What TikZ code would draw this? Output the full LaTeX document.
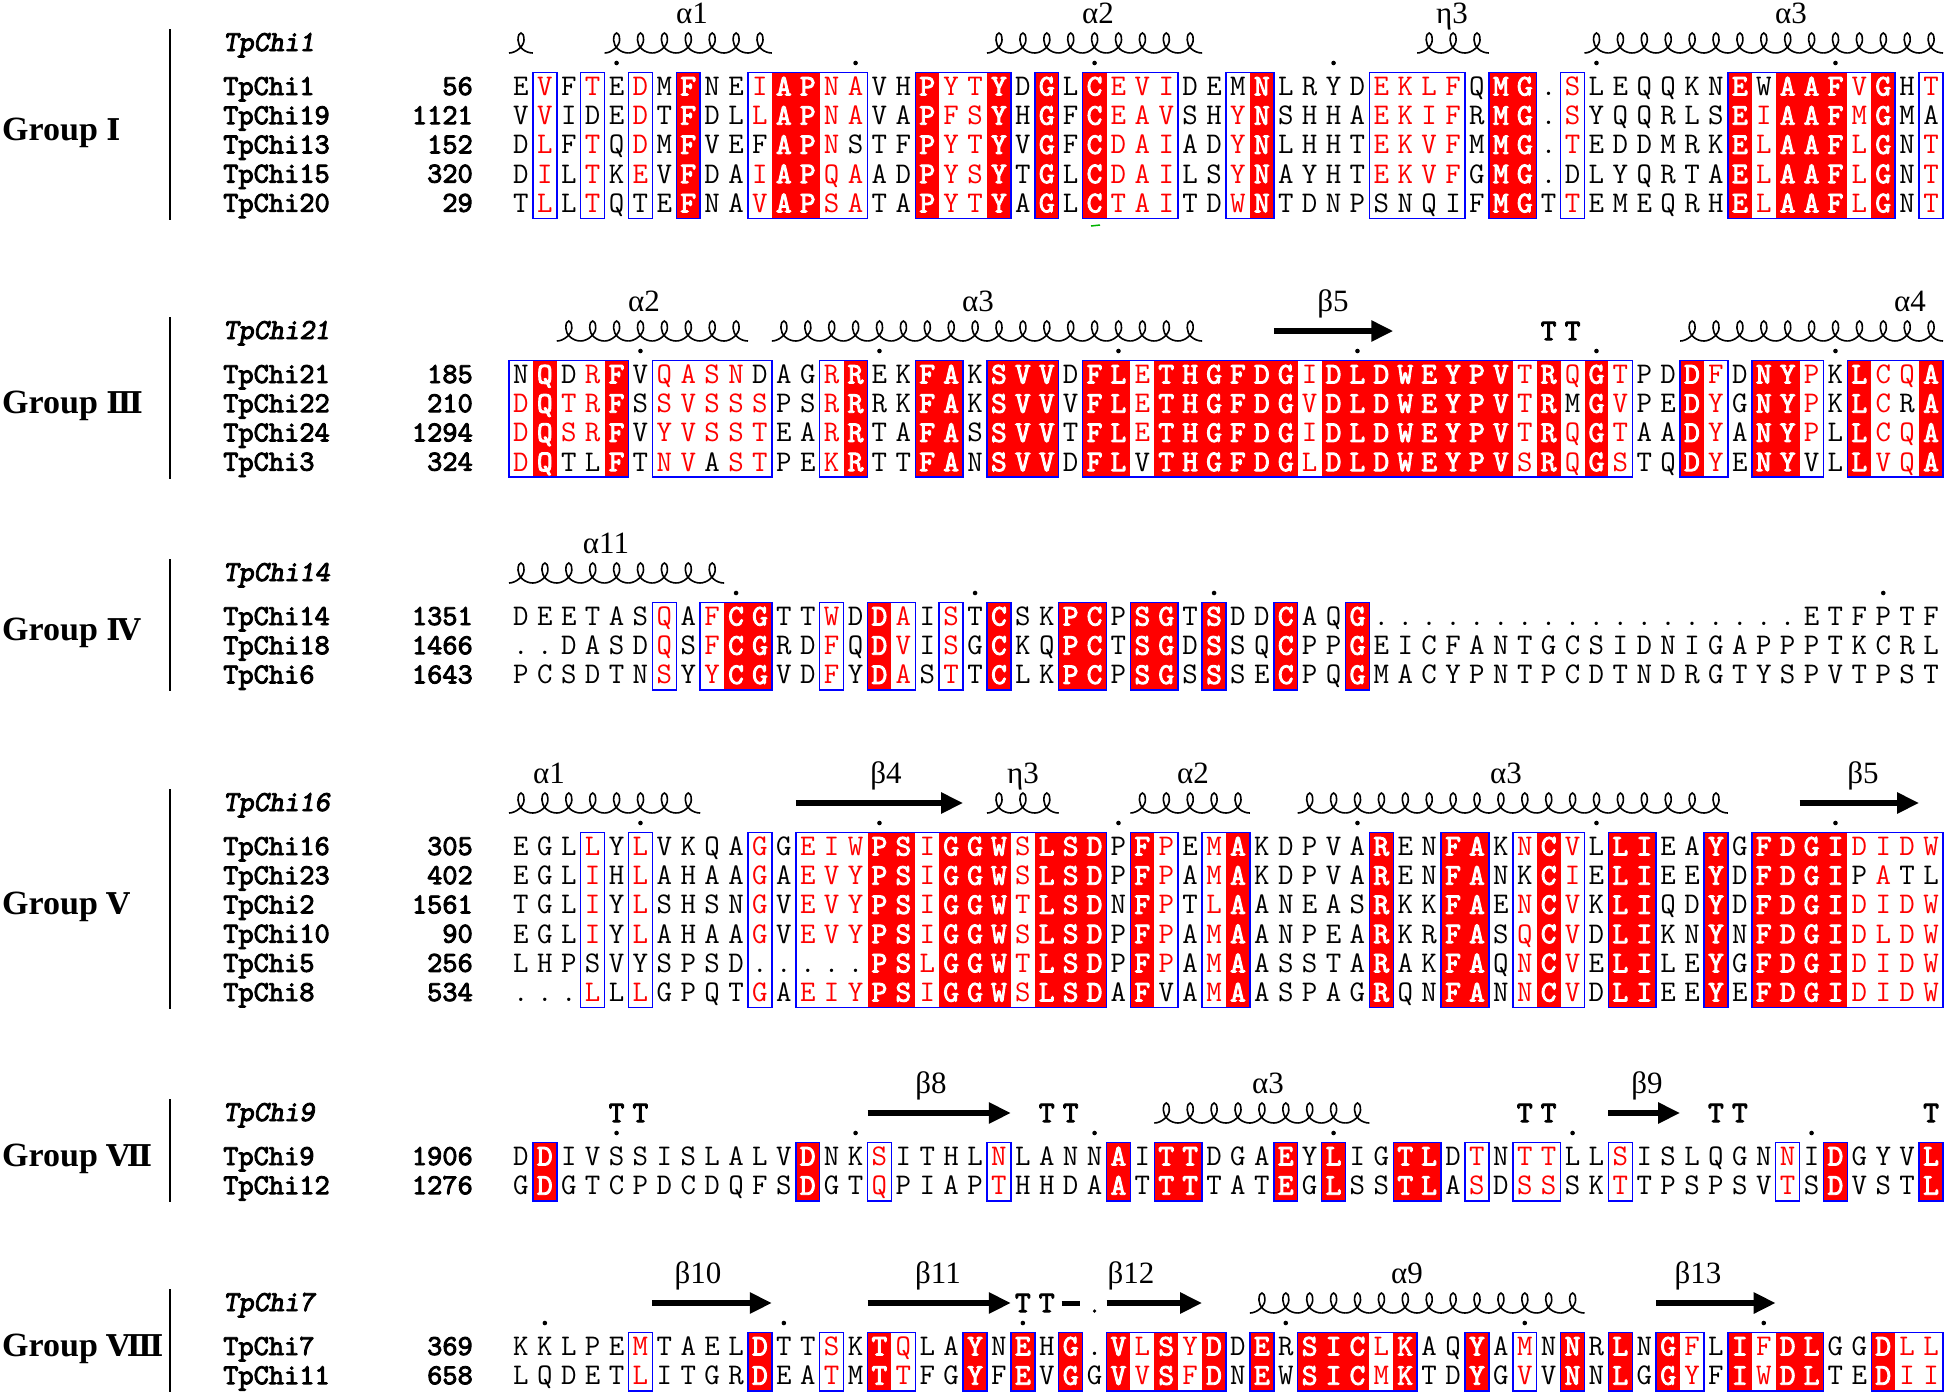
\documentclass[tikz,border=0pt]{standalone}
\usepackage{fontspec}
\setmainfont{Liberation Serif}
\newfontfamily\numeralfont{DejaVu Serif}
\newfontfamily\monobold{lmmono10-regular.otf}[FakeBold=3]
\newfontfamily\monoboldit{lmmonoslant10-regular.otf}[FakeBold=3]
\usetikzlibrary{arrows.meta}

\definecolor{espred}{RGB}{255,0,0}
\definecolor{espblue}{RGB}{0,0,255}

% one cell is 23.9 wide and 29.2 high, column 0 starts at x=509
\newcount\colidx
\newcount\runstart
\newif\ifinrun

\tikzset{
  resid/.style={inner sep=0pt, text height=17pt, text depth=0pt, anchor=center,
    font={\ttfamily\fontsize{30}{30}\selectfont}},
  residid/.style={resid, text=white, font={\monobold\fontsize{30}{30}\selectfont}},
  residsim/.style={resid, text=espred},
  idbox/.style={fill=espred},
  framebox/.style={draw=espblue, line width=1.5pt},
  seqname/.style={anchor=west, inner sep=0pt, text height=16pt, text depth=0pt,
    font={\monobold\fontsize{29}{29}\selectfont}},
  seqnum/.style={seqname, anchor=east},
  headname/.style={seqname, font={\monoboldit\fontsize{29}{29}\selectfont}},
  grouplabel/.style={anchor=west, inner sep=0pt, font={\bfseries\fontsize{34}{34}\selectfont}},
  groupbar/.style={line width=2.5pt},
  sslabel/.style={inner sep=0pt, anchor=base, font={\fontsize{31}{31}\selectfont}},
  turnmark/.style={inner sep=0pt, font={\monobold\fontsize{30}{30}\selectfont}},
  coilline/.style={line width=1.6pt},
  strand/.style={line width=6pt, -{Triangle[length=22pt,width=20pt]}},
  coilloop/.pic={\draw[coilline] (0,0) .. controls (7,0) and (15,-7) .. (15,-13)
    .. controls (15,-18) and (13.5,-20) .. (12,-20) .. controls (10.5,-20) and (9,-18) .. (9,-13)
    .. controls (9,-6) and (16,0) .. (23.9,0);}
}

% red boxes and blue frames of a block, from \colclass
\def\closerun{\draw[framebox] ({509+23.9*\the\runstart},\blocktop) rectangle ({509+23.9*\the\colidx},\blockbot);}
\def\dcstep#1{%
  \ifx#1\relax\else
    \if#1R\fill[idbox] ({509+23.9*\the\colidx},\blocktop) rectangle ({532.9+23.9*\the\colidx},\blockbot);\fi
    \if#1.\ifinrun\closerun\inrunfalse\fi
    \else\ifinrun\else\runstart=\colidx\inruntrue\fi\fi
    \advance\colidx by 1
    \expandafter\dcstep\fi}
\def\drawcols{\colidx=0 \inrunfalse\expandafter\dcstep\colclass\relax\ifinrun\closerun\fi}

% one residue: white on red, red, or black
\def\putres#1#2{%
  \pgfmathsetmacro\rescx{520.95+23.9*\the\colidx}%
  \if#1R\node[residid] at (\rescx,\rowy) {\uppercase{#2}};%
  \else\ifnum`#2>96 \node[residsim] at (\rescx,\rowy) {\uppercase{#2}};%
  \else\node[resid] at (\rescx,\rowy) {#2};\fi\fi}
\def\drstep#1#2\relax#3#4\relax{\putres{#1}{#3}\advance\colidx by 1
  \ifx\relax#2\relax\else\drstep#2\relax#4\relax\fi}

\newcommand\seqrow[4]{%
  \pgfmathsetmacro\rowy{\ssy+44+29.2*(#1-1)}%
  \node[seqname] at (223,\rowy) {#2};
  \node[seqnum] at (473,\rowy) {#3};
  \colidx=0 \expandafter\drstep\colclass\relax#4\relax}

\newcommand\grouphead[4]{%
  \def\ssy{#2}%
  \pgfmathsetmacro\blocktop{#2+29.4}%
  \pgfmathsetmacro\blockbot{#2+44+29.2*(#3-1)+14.6}%
  \pgfmathsetmacro\bartop{#2-14}%
  \pgfmathsetmacro\barbot{#2+44+29.2*(#3-1)+16}%
  \pgfmathsetmacro\labely{(\bartop+\barbot)/2+8}%
  \draw[groupbar] (170,\bartop) -- (170,\barbot);
  \node[grouplabel] at (2,\labely) {Group {\numeralfont\fontsize{30}{30}\selectfont #1}};
  \node[headname] at (223,#2) {#4};
  \drawcols}

% secondary structure
\newcommand\helix[2]{\foreach \c in {#1,...,#2}{\pic at ({509+23.9*\c},{\ssy+10}) {coilloop};}}
\newcommand\strandarr[2]{\draw[strand] ({509+23.9*#1},\ssy) -- ({509+23.9*(#2+1)},\ssy);}
\newcommand\turnT[1]{\node[turnmark] at ({520.95+23.9*#1},\ssy) {T};}
\newcommand\numdots[1]{\foreach \c in {#1}{\fill ({520.95+23.9*\c},{\ssy+20}) circle (2.3);}}
\newcommand\sslab[2]{\node[sslabel] at (#1,{\ssy-20}) {#2};}

\begin{document}
\begin{tikzpicture}[x=1pt,y=-1pt]
\useasboundingbox (0,0) rectangle (1946,1398);

% ---- Group I ----
\def\colclass{.B.B.B.R.. BRRBB..RBB R.R.RBBB.. BR....BBBB .RR.B..... .RBRRRBR.B}
\grouphead{Ⅰ}{43}{5}{TpChi1}
\helix{0}{0} \helix{4}{10} \helix{20}{28} \helix{38}{40} \helix{45}{59}
\sslab{692}{α1} \sslab{1098}{α2} \sslab{1452}{η3} \sslab{1791}{α3}
\numdots{4,14,24,34,45,55}
\seqrow{1}{TpChi1}{56}{EvFtEdMFNE iAPnaVHPyt YDGLCeviDE MNLRYDeklf QMG.sLEQQK NEWAAFvGHt}
\seqrow{2}{TpChi19}{1121}{VvIDEdTFDL lAPnaVAPfs YHGFCeavSH yNSHHAekif RMG.sYQQRL SEiAAFmGMA}
\seqrow{3}{TpChi13}{152}{DlFtQdMFVE FAPnSTFPyt YVGFCdaiAD yNLHHTekvf MMG.tEDDMR KElAAFlGNt}
\seqrow{4}{TpChi15}{320}{DiLtKeVFDA iAPqaADPys YTGLCdaiLS yNAYHTekvf GMG.DLYQRT AElAAFlGNt}
\seqrow{5}{TpChi20}{29}{TlLtQTEFNA vAPsaTAPyt YAGLCtaiTD wNTDNPSNQI FMGTtEMEQR HElAAFlGNt}
\draw[green!70!black, line width=1.5pt] (1091,226) -- (1100,225);

% ---- Group III ----
\def\colclass{BRBBR.BBBB B..BR..RR. RRR.RRBRRR RRRBRRRRRR RRBRBRB..R B.RRB.RBBR}
\grouphead{Ⅲ}{331}{4}{TpChi21}
\helix{2}{9} \helix{11}{28} \strandarr{32}{36} \turnT{43} \turnT{44} \helix{49}{59}
\sslab{644}{α2} \sslab{978}{α3} \sslab{1333}{β5} \sslab{1910}{α4}
\numdots{5,15,25,35,45,55}
\seqrow{1}{TpChi21}{185}{NQDrFVqasn DAGrREKFAK SVVDFLeTHG FDGiDLDWEY PVtRqGtPDD fDNYpKLcqA}
\seqrow{2}{TpChi22}{210}{dQtrFSsvss sPSrRRKFAK SVVVFLeTHG FDGvDLDWEY PVtRMGvPED yGNYpKLcRA}
\seqrow{3}{TpChi24}{1294}{dQsrFVyvss tEArRTAFAS SVVTFLeTHG FDGiDLDWEY PVtRqGtAAD yANYpLLcqA}
\seqrow{4}{TpChi3}{324}{dQTLFTnvAs tPEkRTTFAN SVVDFLVTHG FDGlDLDWEY PVsRqGsTQD yENYVLLvqA}

% ---- Group IV ----
\def\colclass{......B.BR R..B.RB.B. R..RR.RR.R ..R..R.... .......... ..........}
\grouphead{Ⅳ}{573}{3}{TpChi14}
\helix{0}{8}
\sslab{606}{α11}
\numdots{9,19,29,57}
\seqrow{1}{TpChi14}{1351}{DEETASqAfC GTTwDDaIsT CSKPCPSGTS DDCAQG.... .......... ....ETFPTF}
\seqrow{2}{TpChi18}{1466}{..DASDqSfC GRDfQDvIsG CKQPCTSGDS SQCPPGEICF ANTGCSIDNI GAPPPTKCRL}
\seqrow{3}{TpChi6}{1643}{PCSDTNsYyC GVDfYDaStT CLKPCPSGSS SECPQGMACY PNTPCDTNDR GTYSPVTPST}

% ---- Group V ----
\def\colclass{...B.B.... B.BBBRRBRR RBRRR.RB.B R.....R..R R.BRB.RR.. R.RRRRBBBB}
\grouphead{Ⅴ}{803}{6}{TpChi16}
\helix{0}{7} \strandarr{12}{18} \helix{20}{22} \helix{26}{30} \helix{33}{50} \strandarr{54}{58}
\sslab{549}{α1} \sslab{886}{β4} \sslab{1023}{η3} \sslab{1193}{α2} \sslab{1506}{α3} \sslab{1863}{β5}
\numdots{5,15,25,35,45,55}
\seqrow{1}{TpChi16}{305}{EGLlYlVKQA gGeiwPSiGG WsLSDPFpEm AKDPVARENF AKnCvLLIEA YGFDGIdidw}
\seqrow{2}{TpChi23}{402}{EGLiHlAHAA gAevyPSiGG WsLSDPFpAm AKDPVARENF ANKCiELIEE YDFDGIPaTL}
\seqrow{3}{TpChi2}{1561}{TGLiYlSHSN gVevyPSiGG WtLSDNFpTl AANEASRKKF AEnCvKLIQD YDFDGIdidw}
\seqrow{4}{TpChi10}{90}{EGLiYlAHAA gVevyPSiGG WsLSDPFpAm AANPEARKRF ASqCvDLIKN YNFDGIdldw}
\seqrow{5}{TpChi5}{256}{LHPSVYSPSD .....PSlGG WtLSDPFpAm AASSTARAKF AQnCvELILE YGFDGIdidw}
\seqrow{6}{TpChi8}{534}{...lLlGPQT gAeiyPSiGG WsLSDAFVAm AASPAGRQNF ANnCvDLIEE YEFDGIdidw}

% ---- Group VII ----
\def\colclass{.R........ ..R..B.... B....R.RR. ..R.R..RR. B.BB..B... ...B.R...R}
\grouphead{Ⅶ}{1113}{2}{TpChi9}
\turnT{4} \turnT{5} \strandarr{15}{20} \turnT{22} \turnT{23} \helix{27}{35}
\turnT{42} \turnT{43} \strandarr{46}{48} \turnT{50} \turnT{51} \turnT{59}
\sslab{931}{β8} \sslab{1268}{α3} \sslab{1647}{β9}
\numdots{4,14,24,34,44,54}
\seqrow{1}{TpChi9}{1906}{DDIVSSISLA LVDNKsITHL nLANNAITTD GAEYLIGTLD tNttLLsISL QGNnIDGYVL}
\seqrow{2}{TpChi12}{1276}{GDGTCPDCDQ FSDGTqPIAP tHHDAATTTT ATEGLSSTLA sDssSKtTPS PSVtSDVSTL}

% ---- Group VIII ----
\def\colclass{.....B.... R..B.RB..R .R.R.RBRBR .R.RRRBR.. R.B.R.R.RB .RBRR..RBB}
\grouphead{Ⅷ}{1303}{2}{TpChi7}
\strandarr{6}{10} \strandarr{15}{20} \turnT{21} \turnT{22}
\draw[line width=5pt] ({509+23.9*23+3},\ssy) -- ({509+23.9*24-3},\ssy);
\fill ({520.95+23.9*24},{\ssy+8}) circle (1.8);
\strandarr{25}{28} \helix{31}{44} \strandarr{48}{52}
\sslab{698}{β10} \sslab{938}{β11} \sslab{1131}{β12} \sslab{1407}{α9} \sslab{1698}{β13}
\numdots{1,11,21,32,42,52}
\seqrow{1}{TpChi7}{369}{KKLPEmTAEL DTTsKTqLAY NEHG.VlSyD DERSIClKAQ YAmNNRLNGf LIfDLGGDll}
\seqrow{2}{TpChi11}{658}{LQDETlITGR DEAtMTtFGY FEVGGVvSfD NEWSICmKTD YGvVNNLGGy FIwDLTEDii}

\end{tikzpicture}
\end{document}
